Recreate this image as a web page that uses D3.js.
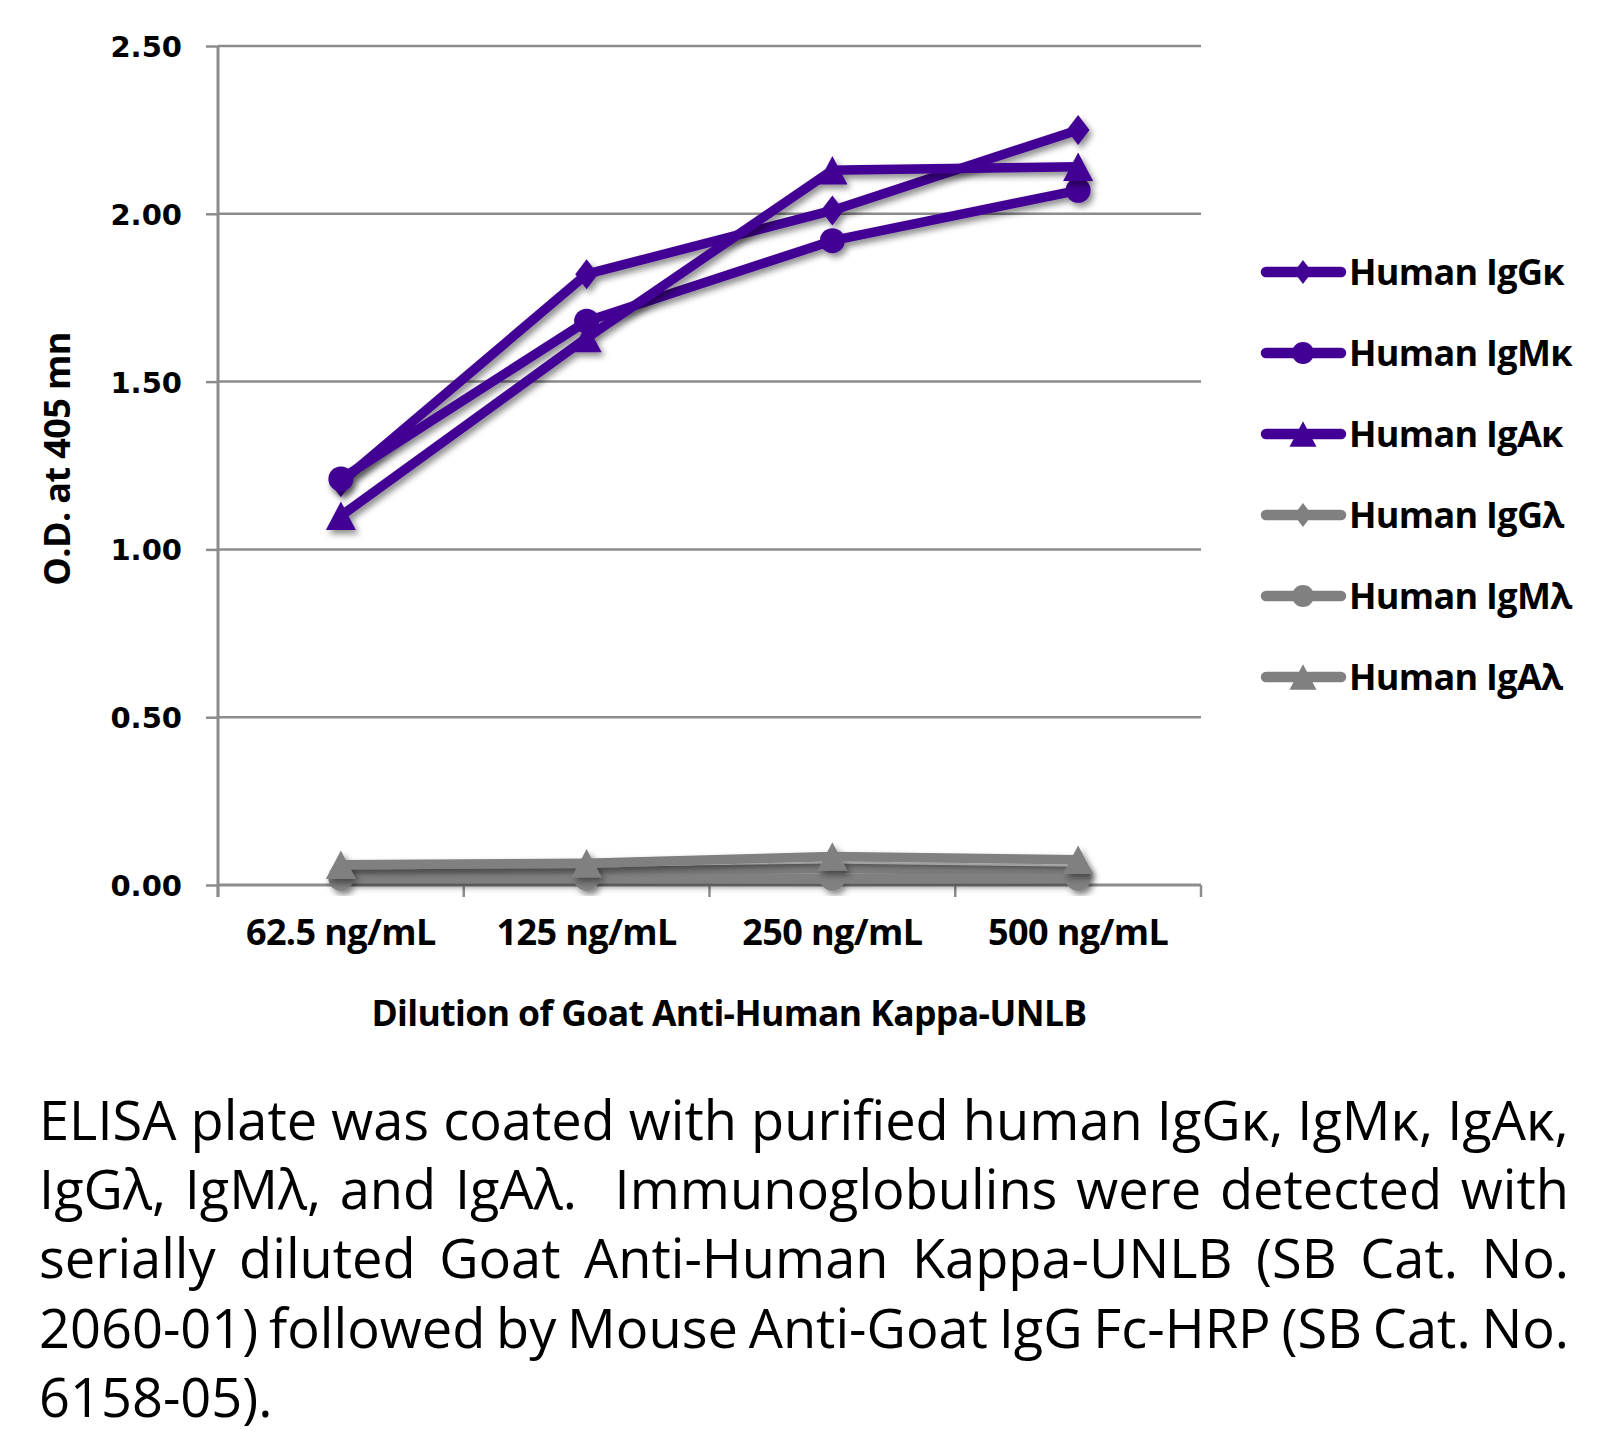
<!DOCTYPE html>
<html><head><meta charset="utf-8">
<script src="https://cdn.jsdelivr.net/npm/d3@7/dist/d3.min.js"></script>
<style>body{margin:0;background:#fff} svg{display:block}</style>
</head><body><svg id="c" width="1605" height="1435"></svg>
<script>
// ---- data ----
const categories = ["62.5 ng/mL", "125 ng/mL", "250 ng/mL", "500 ng/mL"];
const seriesNames = ["Human IgGκ", "Human IgMκ", "Human IgAκ", "Human IgGλ", "Human IgMλ", "Human IgAλ"];
const igGk = [1.20, 1.82, 2.01, 2.25];
const igMk = [1.21, 1.68, 1.92, 2.07];
const igAk = [1.10, 1.63, 2.13, 2.14];
const igGl = [0.04, 0.04, 0.05, 0.04];
const igMl = [0.02, 0.02, 0.02, 0.02];
const igAl = [0.06, 0.065, 0.085, 0.075];
const yTicks = [0, 0.5, 1, 1.5, 2, 2.5];
const yTickLabels = ["0.00", "0.50", "1.00", "1.50", "2.00", "2.50"];
const yTitle = "O.D. at 405 mn";
const xTitle = "Dilution of Goat Anti-Human Kappa-UNLB";
const captionLines = [
  "ELISA plate was coated with purified human IgGκ, IgMκ, IgAκ,",
  "IgGλ, IgMλ, and IgAλ.  Immunoglobulins were detected with",
  "serially diluted Goat Anti-Human Kappa-UNLB (SB Cat. No.",
  "2060-01) followed by Mouse Anti-Goat IgG Fc-HRP (SB Cat. No.",
  "6158-05)."
];

const seriesValues = [igGk, igMk, igAk, igGl, igMl, igAl];
const PURPLE = "#430094", GRAY = "#808080", AXIS = "#8c8c8c";
const seriesColors = [PURPLE, PURPLE, PURPLE, GRAY, GRAY, GRAY];
const seriesShapes = ["diamond", "circle", "triangle", "diamond", "circle", "triangle"];

// ---- layout ----
const L = 218, R = 1201, T = 46, B = 885;
const x = d3.scaleBand().domain(categories).range([L, R]);
const y = d3.scaleLinear().domain([0, 2.5]).range([B, T]);

const svg = d3.select("#c");
const defs = svg.append("defs");
const f = defs.append("filter").attr("id", "sh").attr("x", "-20%").attr("y", "-20%").attr("width", "140%").attr("height", "140%");
f.append("feDropShadow").attr("dx", 3).attr("dy", 4).attr("stdDeviation", 3).attr("flood-color", "#000").attr("flood-opacity", 0.45);

// custom symbol types
const diamondType = { draw(ctx, s) { const w = s * 0.76, h = s; ctx.moveTo(0, -h); ctx.lineTo(w, 0); ctx.lineTo(0, h); ctx.lineTo(-w, 0); ctx.closePath(); } };
const triangleType = { draw(ctx, s) { const w = s, h = s * 0.95; ctx.moveTo(0, -h); ctx.lineTo(w, h); ctx.lineTo(-w, h); ctx.closePath(); } };
const circleType = { draw(ctx, s) { ctx.moveTo(s, 0); ctx.arc(0, 0, s, 0, 2 * Math.PI); ctx.closePath(); } };
function shapePath(name, s) {
  const t = name === "diamond" ? diamondType : name === "triangle" ? triangleType : circleType;
  return d3.symbol().type(t).size(s)();
}
const plotSize = { diamond: 15, circle: 12.5, triangle: 15 };
const legSize = { diamond: 12, circle: 11, triangle: 13.5 };

// gridlines
svg.append("g").selectAll("line").data(yTicks.filter(v => v > 0)).join("line")
  .attr("x1", L).attr("x2", R).attr("y1", d => y(d)).attr("y2", d => y(d))
  .attr("stroke", AXIS).attr("stroke-width", 2.5);

// y axis
const yAxis = svg.append("g").attr("transform", `translate(${L},0)`)
  .call(d3.axisLeft(y).tickValues(yTicks).tickFormat((d, i) => yTickLabels[i]).tickSize(12).tickPadding(24));
yAxis.select(".domain").remove();
yAxis.append("line").attr("x1", 0).attr("x2", 0).attr("y1", T).attr("y2", B + 12).attr("stroke", AXIS).attr("stroke-width", 3);
yAxis.selectAll(".tick line").attr("stroke", AXIS).attr("stroke-width", 2.5);
yAxis.selectAll(".tick text").attr("font-family", "DejaVu Sans").attr("font-weight", "bold")
  .attr("font-size", 29).attr("fill", "#000").attr("dy", "0.36em");

// x axis
const xAxis = svg.append("g").attr("transform", `translate(0,${B})`)
  .call(d3.axisBottom(x).tickSize(0).tickPadding(0));
xAxis.select(".domain").remove();
xAxis.append("line").attr("x1", L).attr("x2", R).attr("y1", 0).attr("y2", 0).attr("stroke", AXIS).attr("stroke-width", 3);
const bounds = categories.map(c => x(c)).concat([R]);
xAxis.selectAll(".bt").data(bounds).join("line").attr("class", "bt")
  .attr("x1", d => d).attr("x2", d => d).attr("y1", 0).attr("y2", 12).attr("stroke", AXIS).attr("stroke-width", 2.5);
xAxis.selectAll(".tick text").attr("font-family", "Open Sans").attr("font-weight", "bold")
  .attr("font-size", 36).attr("fill", "#000").attr("y", 60).attr("dy", 0).attr("letter-spacing", -0.6);

// titles
svg.append("text").attr("x", 729).attr("y", 1026).attr("text-anchor", "middle")
  .attr("font-family", "Open Sans").attr("font-weight", "bold").attr("font-size", 35.5).attr("letter-spacing", -0.6)
  .text(xTitle);
svg.append("text").attr("transform", "translate(70,459) rotate(-90)").attr("text-anchor", "middle")
  .attr("font-family", "Open Sans").attr("font-weight", "bold").attr("font-size", 36).attr("letter-spacing", -0.6)
  .text(yTitle);

// series
const cx = c => x(c) + x.bandwidth() / 2;
const lineGen = d3.line().x((d, i) => cx(categories[i])).y(d => y(d));
const order = [3, 4, 5, 0, 1, 2];
order.forEach(si => {
  const g = svg.append("g").attr("filter", "url(#sh)");
  g.append("path").datum(seriesValues[si]).attr("d", lineGen)
    .attr("fill", "none").attr("stroke", seriesColors[si]).attr("stroke-width", 9.5).attr("stroke-linejoin", "round");
  g.selectAll("path.m").data(seriesValues[si]).join("path").attr("class", "m")
    .attr("d", shapePath(seriesShapes[si], plotSize[seriesShapes[si]]))
    .attr("transform", (d, i) => `translate(${cx(categories[i])},${y(d)})`)
    .attr("fill", seriesColors[si]);
});

// legend
const leg = svg.append("g");
seriesNames.forEach((name, i) => {
  const cy = 272 + i * 81;
  leg.append("line").attr("x1", 1266).attr("x2", 1341).attr("y1", cy).attr("y2", cy)
    .attr("stroke", seriesColors[i]).attr("stroke-width", 10.5).attr("stroke-linecap", "round");
  leg.append("path").attr("d", shapePath(seriesShapes[i], legSize[seriesShapes[i]]))
    .attr("transform", `translate(1303,${cy})`).attr("fill", seriesColors[i]);
  leg.append("text").attr("x", 1349).attr("y", cy + 13)
    .attr("font-family", "Open Sans").attr("font-weight", "bold").attr("font-size", 36).attr("letter-spacing", -0.7)
    .text(name);
});

// caption (justified)
const capX = 39, capW = 1530;
const baselines = [1140, 1209, 1278, 1348, 1417];
const cap = svg.append("g");
const texts = captionLines.map((t, i) => cap.append("text").attr("y", baselines[i])
  .attr("font-family", "Open Sans").attr("font-size", 55).attr("fill", "#000")
  .style("white-space", "pre").text(t));
const w0 = texts[0].node().getComputedTextLength();
const sx = capW / w0;
cap.attr("transform", `translate(${capX},0) scale(${sx},1)`);
texts.forEach((t, i) => {
  t.attr("x", 0);
  if (i < captionLines.length - 1 && i > 0) {
    const w = t.node().getComputedTextLength();
    const n = (captionLines[i].match(/ /g) || []).length;
    t.attr("word-spacing", (capW / sx - w) / n);
  }
});
</script></body></html>
